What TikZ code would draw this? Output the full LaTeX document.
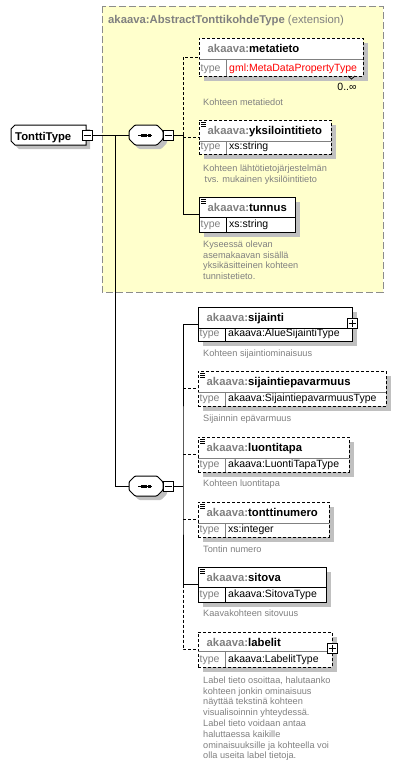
\documentclass[tikz,border=0pt]{standalone}
\usepackage{fontspec}
\setmainfont{Liberation Sans}
\definecolor{yel}{HTML}{FFFFCC}
\definecolor{shd}{HTML}{C0C0C0}
\definecolor{gtxt}{HTML}{808080}
\definecolor{frm}{HTML}{8C8C8C}
\newcommand\hdrfont{\fontsize{11.3}{13}\selectfont\bfseries}
\newcommand\typfont{\fontsize{10.5}{12}\selectfont}
\newcommand\descfont{\fontsize{9.2}{10.8}\selectfont}
\tikzset{
  ln/.style={line width=1pt},
  dsh/.style={dash pattern=on 3pt off 2pt},
  elbox/.style={draw, line width=1pt, fill=white, inner sep=0pt, outer sep=0pt},
  sb/.style={},
  db/.style={dsh},
  divsb/.style={line width=1pt, draw=black},
  divdb/.style={line width=1pt, draw=gtxt},
  hdr/.style={inner sep=0pt, anchor=base west, font=\hdrfont},
  typ/.style={inner sep=0pt, anchor=base west, font=\typfont},
  desc/.style={inner sep=0pt, anchor=north west, align=left, font=\descfont, text=gtxt},
  pmbox/.style={draw, line width=1pt, fill=white, minimum size=10pt, inner sep=0pt, outer sep=0pt},
}
% element box: name x1 y1 x2 y2 ydiv style label type
\newcommand\elm[9]{%
  \fill[shd] ({#2+5},{#3+5}) rectangle ({#4+5},{#5+5});
  \node[elbox,#7,minimum width={#4pt-#2pt},minimum height={#5pt-#3pt},anchor=north west] (#1) at (#2,#3) {};
  \draw[div#7] (#2,#6) -- (#4,#6);
  \draw[div#7] ({#2+27},#6) -- ({#2+27},#5);
  \node[hdr] (#1-h) at ({#2+8.5},{#3+14.5}) {\textcolor{gtxt}{akaava:}#8};
  \node[typ,text=gtxt] (#1-t) at ({#2+1.5},{#5-4.5}) {type};
  \node[typ] (#1-v) at ({#2+30},{#5-4.5}) {#9};
}
\newcommand\elicon[2]{%
  \draw[line width=0.8pt] ({#1+2},{#2+2}) -- ({#1+7},{#2+2});
  \draw[line width=0.8pt] ({#1+2},{#2+4}) -- ({#1+7},{#2+4});
  \draw[line width=0.8pt] ({#1+2},{#2+6}) -- ({#1+7},{#2+6});
}
\newcommand\plusbox[3]{%
  \node[pmbox] (#1) at (#2,#3) {};
  \draw[ln] ({#2-3.5},#3) -- ({#2+3.5},#3);
  \draw[ln] (#2,{#3-3.5}) -- (#2,{#3+3.5});
}
\newcommand\minusbox[3]{%
  \node[pmbox] (#1) at (#2,#3) {};
  \draw[ln] ({#2-3.5},#3) -- ({#2+3.5},#3);
}
\newcommand\seqshape[2]{({#1-17},{#2-4}) -- ({#1-11},{#2-10}) -- ({#1+11},{#2-10}) -- ({#1+17},{#2-4}) -- ({#1+17},{#2+4}) -- ({#1+11},{#2+10}) -- ({#1-11},{#2+10}) -- ({#1-17},{#2+4}) -- cycle}
\newcommand\seqnode[3]{%
  \fill[shd,rounded corners=1pt] \seqshape{#2+4}{#3+4};
  \draw[ln,fill=white,rounded corners=1pt] \seqshape{#2}{#3};
  \node[inner sep=0pt,outer sep=0pt,minimum width=34pt,minimum height=20pt] (#1) at (#2,#3) {};
  \draw[ln] ({#2-8},#3) -- ({#2+6},#3);
  \fill ({#2-5.5},{#3-1.5}) rectangle ++(3,3);
  \fill ({#2-2},{#3-1.5}) rectangle ++(3,3);
  \fill ({#2+1.5},{#3-1.5}) rectangle ++(3,3);
  \minusbox{#1-m}{#2+22}{#3}
}
\begin{document}
\begin{tikzpicture}[x=1pt,y=-1pt]
\useasboundingbox (0,0) rectangle (414,766);
\fill[white] (0,0) rectangle (414,766);

% extension frame
\draw[frm, line width=1pt, dash pattern=on 7pt off 3pt, fill=yel] (102,6) rectangle (383,292);
\node[hdr, text=gtxt] (title) at (108,23) {akaava:AbstractTonttikohdeType \mdseries(extension)};

% root
\fill[shd] (15,129) -- (19,129) -- (90,129) -- (90,149) -- (19,149) -- (15,145) -- cycle;
\draw[ln,fill=white] (11,129) -- (15,125) -- (86,125) -- (86,145) -- (15,145) -- (11,141) -- cycle;
\node[hdr] (tt) at (15,140) {TonttiType};
\minusbox{tt-m}{87}{135}

% sequences
\seqnode{seq1}{146}{135}
\seqnode{seq2}{146}{486}

\coordinate (j) at (115,135);
\coordinate (b1) at (183,135);
\coordinate (b2) at (183,486);

% elements
\elm{metatieto}{199}{38}{363}{76}{59}{db}{metatieto}{\textcolor{red}{gml:MetaDataPropertyType}}
\elm{yksilointitieto}{199}{120}{331}{154}{141}{db}{yksilointitieto}{xs:string}
\elicon{199}{120}
\elm{tunnus}{199}{197}{295}{232}{217}{sb}{tunnus}{xs:string}
\elicon{199}{197}
\elm{sijainti}{198}{307}{352}{341}{328}{sb}{sijainti}{akaava:AlueSijaintiType}
\plusbox{sijainti-p}{352}{323}
\elm{sijaintiepavarmuus}{198}{371}{386}{406}{392}{db}{sijaintiepavarmuus}{akaava:SijaintiepavarmuusType}
\elicon{198}{371}
\elm{luontitapa}{198}{437}{349}{472}{458}{db}{luontitapa}{akaava:LuontiTapaType}
\elicon{198}{437}
\elm{tonttinumero}{198}{502}{329}{537}{523}{db}{tonttinumero}{xs:integer}
\elicon{198}{502}
\elm{sitova}{198}{567}{326}{602}{587}{sb}{sitova}{akaava:SitovaType}
\elicon{198}{567}
\elm{labelit}{198}{632}{332}{667}{651}{db}{labelit}{akaava:LabelitType}
\plusbox{labelit-p}{332}{648.5}

% connectors
\draw[ln] (tt-m.east) -- (seq1.west);
\draw[ln] (j) |- (seq2.west);
\draw[ln] (seq1-m.east) -- (b1);
\draw[ln,dsh] (b1) |- (metatieto.west);
\draw[ln,dsh] (b1 |- yksilointitieto.west) -- (yksilointitieto.west);
\draw[ln] (b1) |- (tunnus.west);
\draw[ln] (seq2-m.east) -- (b2);
\draw[ln] (sijainti.west) -| (b2) |- (sitova.west);
\draw[ln,dsh] (b2 |- sijaintiepavarmuus.west) -- (sijaintiepavarmuus.west);
\draw[ln,dsh] (b2 |- luontitapa.west) -- (luontitapa.west);
\draw[ln,dsh] (b2 |- tonttinumero.west) -- (tonttinumero.west);
\draw[ln,dsh] (b2 |- sitova.west) |- (labelit.west);

% occurrence
\node[inner sep=0pt, font=\typfont] (occ) at (347,87) {0..∞};
\draw[line width=0.8pt] (348,76) -- (351.5,79) -- (355,76);

% descriptions
\node[desc] (d1) at (203,98.5) {Kohteen metatiedot};
\node[desc] (d2) at (203,164.5) {Kohteen lähtötietojärjestelmän\\\hspace{1.5pt}tvs. mukainen yksilöintitieto};
\node[desc] (d3) at (203,240.5) {Kyseessä olevan\\asemakaavan sisällä\\yksikäsitteinen kohteen\\tunnistetieto.};
\node[desc] (d4) at (203,349.5) {Kohteen sijaintiominaisuus};
\node[desc] (d5) at (203,414.5) {Sijainnin epävarmuus};
\node[desc] (d6) at (203,479.5) {Kohteen luontitapa};
\node[desc] (d7) at (203,545.5) {Tontin numero};
\node[desc] (d8) at (203,609.5) {Kaavakohteen sitovuus};
\node[desc] (d9) at (203,676.5) {Label tieto osoittaa, halutaanko\\kohteen jonkin ominaisuus\\näyttää tekstinä kohteen\\visualisoinnin yhteydessä.\\Label tieto voidaan antaa\\haluttaessa kaikille\\ominaisuuksille ja kohteella voi\\olla useita label tietoja.};
\end{tikzpicture}
\end{document}
